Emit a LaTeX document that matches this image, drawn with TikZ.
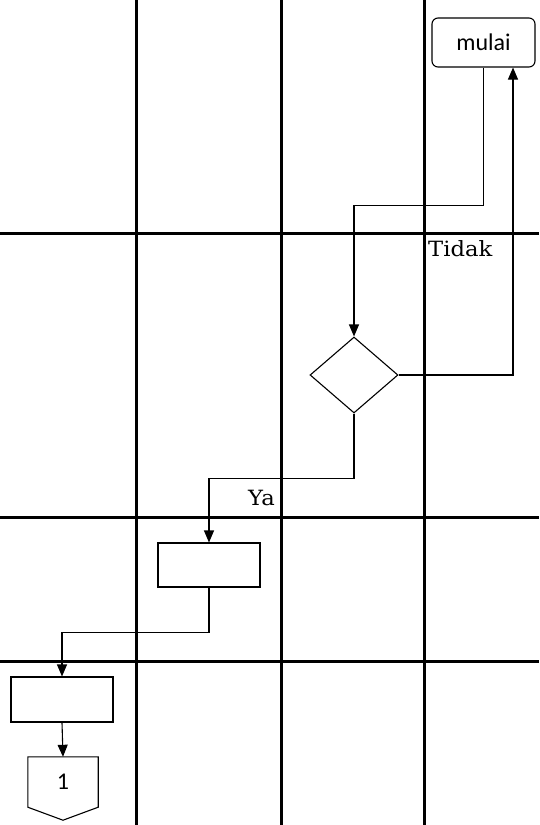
\documentclass[tikz,border=0pt]{standalone}
\usepackage{fontspec}
\setmainfont{Carlito}
\newfontfamily\lblfont{DejaVu Serif}
\usetikzlibrary{shapes.geometric,arrows.meta}
\begin{document}
\begin{tikzpicture}[x=1pt,y=-1pt,
  grid/.style={line width=3pt},
  conn/.style={line width=1.1pt},
  arr/.style={conn,-{Triangle[length=12pt,width=10pt]}},
  startbox/.style={draw,line width=1.1pt,rounded corners=6pt,minimum width=103pt,minimum height=49pt,inner sep=0pt,font=\fontsize{24}{28}\selectfont},
  procbox/.style={draw,line width=1.1pt,minimum width=102pt,minimum height=44pt,inner sep=0pt},
  decision/.style={draw,line width=1.1pt,diamond,minimum width=88pt,minimum height=76pt,inner sep=0pt},
  lbl/.style={font=\lblfont\fontsize{21}{24}\selectfont,inner sep=0pt}
]
\useasboundingbox (0,0) rectangle (539,825);
% swimlane grid
\draw[grid] (136,0) -- (136,825);
\draw[grid] (281,0) -- (281,825);
\draw[grid] (424.5,0) -- (424.5,825);
\draw[grid] (0,233) -- (539,233);
\draw[grid] (0,517) -- (539,517);
\draw[grid] (0,661) -- (539,661);
% nodes
\node[startbox] (mulai) at (483.5,42.5) {mulai};
\node[decision] (d) at (354,375) {};
\node[procbox] (b1) at (209,565) {};
\node[procbox,minimum height=45pt] (b2) at (62,699.5) {};
\node[minimum width=70pt,minimum height=50pt,inner sep=0pt,font=\fontsize{24}{28}\selectfont] (off) at (63,782) {1};
\draw[conn] (off.north west) -- (off.north east) -- (off.south east) -- ([yshift=-13pt]off.south) -- (off.south west) -- cycle;
% connectors
\draw[arr] (mulai.south) -- ++(0,138) -| (d.north);
\draw[arr] (d.east) -| ([xshift=29.5pt]mulai.south);
\draw[arr] (d.south) -- ++(0,65) -| (b1.north);
\draw[arr] (b1.south) -- ++(0,45) -| (b2.north);
\draw[arr] (b2.south) -- (off.north);
% labels
\node[lbl,anchor=base west,xscale=1.08,transform shape] (tidak) at (428,256) {Tidak};
\node[lbl,anchor=base west,xscale=1.08,transform shape] (ya) at (248,505) {Ya};
\end{tikzpicture}
\end{document}
